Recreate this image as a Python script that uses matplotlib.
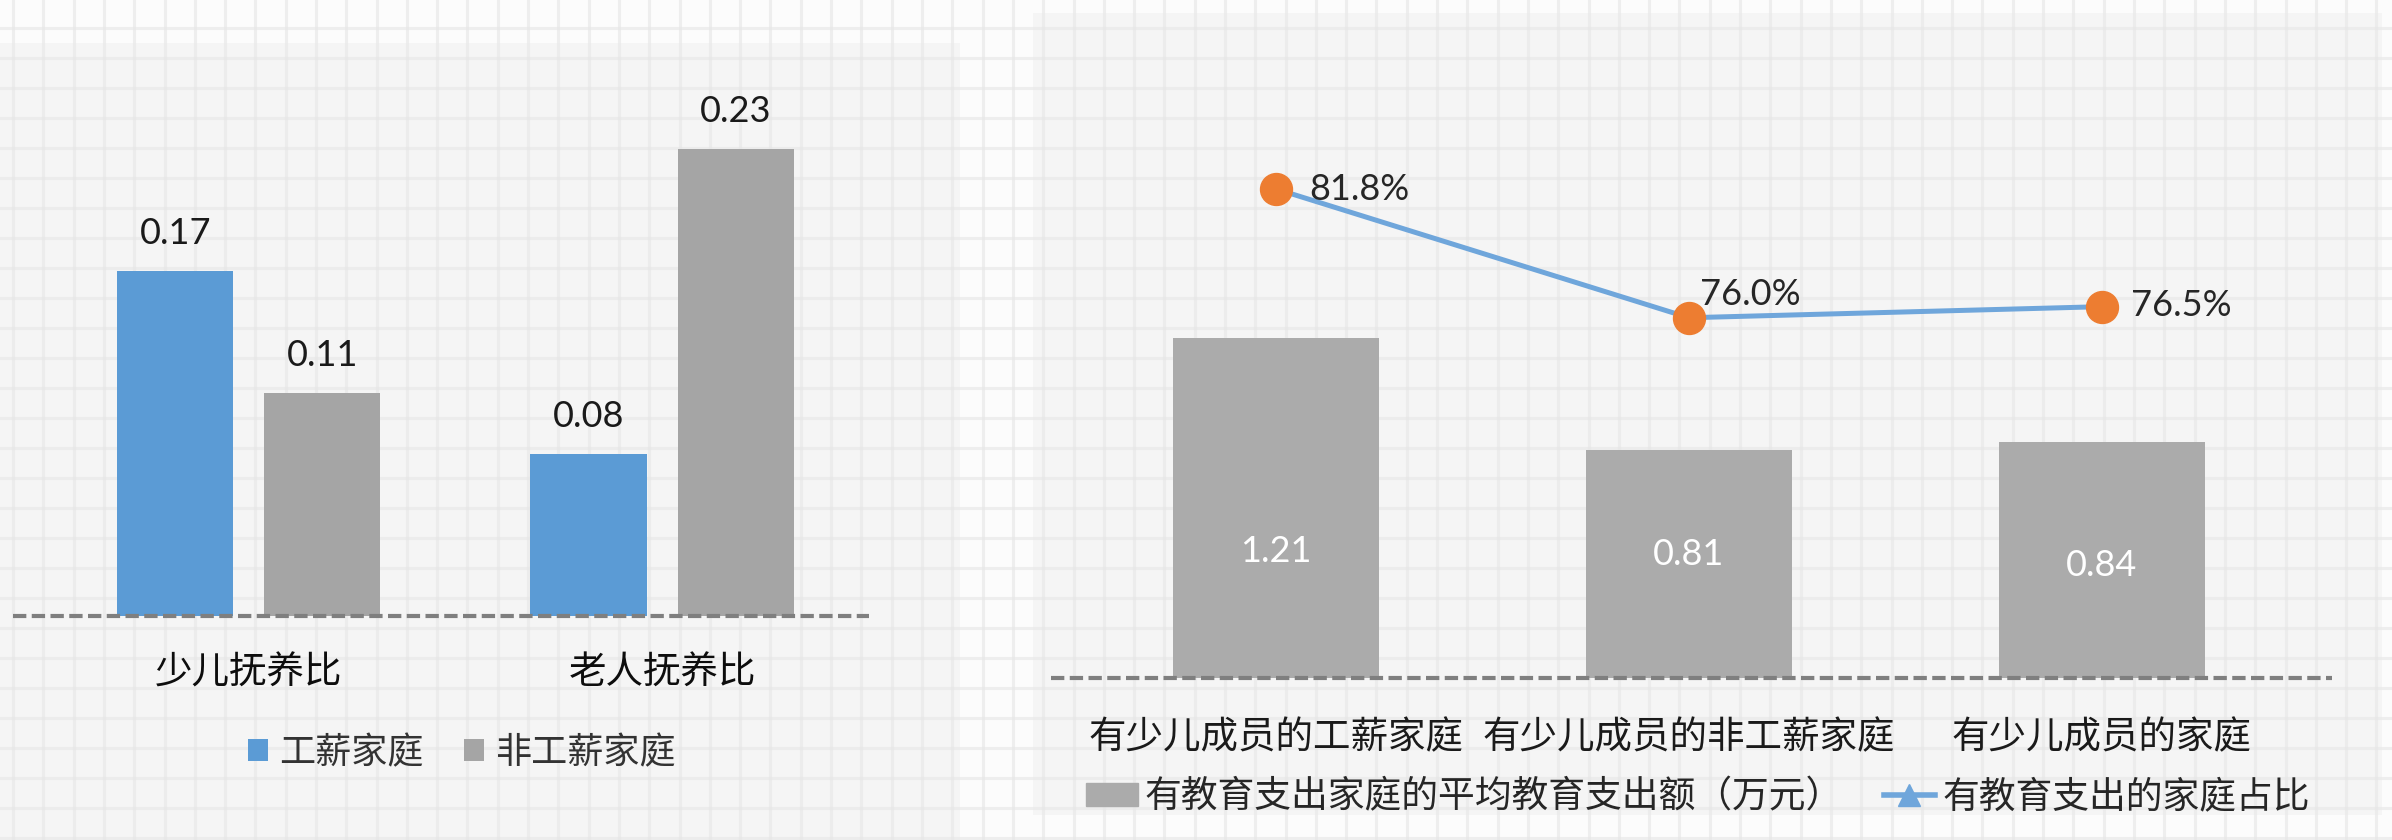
import matplotlib
matplotlib.use("Agg")
import matplotlib.pyplot as plt
from matplotlib.lines import Line2D
from matplotlib.patches import Patch, Rectangle
import numpy as np

plt.rcParams['font.family'] = ['Noto Sans CJK SC', 'DejaVu Sans']

# 左图：工薪 / 非工薪家庭的抚养比
ratio_cats = ['少儿抚养比', '老人抚养比']
ratio_series = ['工薪家庭', '非工薪家庭']
ratio_wage = [0.17, 0.08]
ratio_nonwage = [0.11, 0.23]

# 右图：有少儿成员家庭的教育支出
edu_cats = ['有少儿成员的工薪家庭', '有少儿成员的非工薪家庭', '有少儿成员的家庭']
edu_amount = [1.21, 0.81, 0.84]          # 万元
edu_share = [81.8, 76.0, 76.5]           # %
edu_names = ['有教育支出家庭的平均教育支出额（万元）', '有教育支出的家庭占比']

W, H = 2392, 840
fig = plt.figure(figsize=(W / 100, H / 100), dpi=100)
fig.patch.set_facecolor('#fcfcfc')


def px_axes(x0, y0, x1, y1, **kw):
    # box given in pixels from the top-left corner
    return fig.add_axes([x0 / W, 1 - y1 / H, (x1 - x0) / W, (y1 - y0) / H], **kw)


# squared-paper backdrop with two light panels
bg = fig.add_axes([0, 0, 1, 1], zorder=-10)
bg.set_xlim(0, W)
bg.set_ylim(H, 0)
bg.axis('off')
bg.add_patch(Rectangle((0, 43), 960, H - 43, color='#f5f5f5', lw=0))
bg.add_patch(Rectangle((1033, 13), 1349, 802, color='#f5f5f5', lw=0))
for gx in np.arange(13, W, 30.3):
    bg.axvline(gx, color='#e6e6e6', lw=2.2, alpha=0.6)
for gy in np.arange(28, H, 30):
    bg.axhline(gy, color='#e6e6e6', lw=2.2, alpha=0.6)

num_font = ['Lato', 'DejaVu Sans']

# ---- left: dependency ratios ----
axL = px_axes(13, 100, 869, 616)
axL.patch.set_alpha(0)
xl = np.arange(len(ratio_cats))
bw, off = 0.281, 0.178
bars_w = axL.bar(xl - off, ratio_wage, bw, color='#5b9bd5', label=ratio_series[0])
bars_n = axL.bar(xl + off, ratio_nonwage, bw, color='#a5a5a5', label=ratio_series[1])
axL.set_xlim(-0.571, 1.501)
axL.set_ylim(0, 0.2542)
axL.axhline(0, color='#7f7f7f', lw=3, ls=(0, (3.2, 1.3)), clip_on=False)

for bars, vals in [(bars_w, ratio_wage), (bars_n, ratio_nonwage)]:
    for b, v in zip(bars, vals):
        axL.annotate(f'{v:.2f}', (b.get_x() + b.get_width() / 2, v),
                     xytext=(0, 27), textcoords='offset points',
                     ha='center', va='center', fontsize=26,
                     color='#1a1a1a', family=num_font)

axL.set_xticks(xl, ratio_cats, fontsize=27, color='#0d0d0d')
axL.tick_params(axis='x', length=0, pad=27)
axL.set_yticks([])
for s in axL.spines.values():
    s.set_visible(False)

fig.legend(handles=[bars_w, bars_n], labels=ratio_series, loc='center',
           bbox_to_anchor=(462 / W, 1 - 753 / H), ncol=2, frameon=False,
           fontsize=26, handlelength=0.55, handleheight=0.58,
           handletextpad=0.33, columnspacing=1.1, labelcolor='#333333')

# ---- right: education spending ----
axR = px_axes(1051, 100, 2332, 678)
axR.patch.set_alpha(0)
xr = np.arange(len(edu_cats))
bars_e = axR.bar(xr, edu_amount, 0.5, color='#ababab')
axR.set_xlim(-0.545, 2.557)
axR.set_ylim(0, 2.057)
axR.axhline(0, color='#7f7f7f', lw=3, ls=(0, (3.2, 1.3)), clip_on=False)

amount_label_y = [0.45, 0.44, 0.40]
for xi, v, ly in zip(xr, edu_amount, amount_label_y):
    axR.text(xi, ly, f'{v:.2f}', ha='center', va='center', fontsize=26,
             color='white', family=num_font)

axR.set_xticks(xr, edu_cats, fontsize=27, color='#1a1a1a')
axR.tick_params(axis='x', length=0, pad=29)
axR.set_yticks([])
for s in axR.spines.values():
    s.set_visible(False)

line_col = '#6fa6db'
tw = axR.twinx()
tw.set_ylim(59.77, 85.81)
tw.plot(xr, edu_share, color=line_col, lw=3.6, solid_capstyle='butt', zorder=2)
tw.plot(xr, edu_share, ls='none', marker='o', ms=23, color='#ed7d31', zorder=3)
tw.set_yticks([])
for s in tw.spines.values():
    s.set_visible(False)

share_offsets = [(24, 0), (8, 17), (21, 1)]
for xi, v, (dx, dy) in zip(xr, edu_share, share_offsets):
    tw.annotate(f'{v:.1f}%', (xi, v), xytext=(dx, dy), textcoords='offset points',
                ha='left', va='center', fontsize=26, color='#262626',
                family=num_font)

handles = [Patch(color='#ababab'),
           Line2D([], [], color=line_col, lw=4, marker='^', ms=16)]
fig.legend(handles=handles, labels=edu_names, loc='center',
           bbox_to_anchor=(1698 / W, 1 - 797 / H), ncol=2, frameon=False,
           fontsize=26.5, handlelength=1.4, handleheight=0.6,
           handletextpad=0.2, columnspacing=1.1, labelcolor='#262626')

fig.savefig('out.png', dpi=100, facecolor=fig.get_facecolor())
